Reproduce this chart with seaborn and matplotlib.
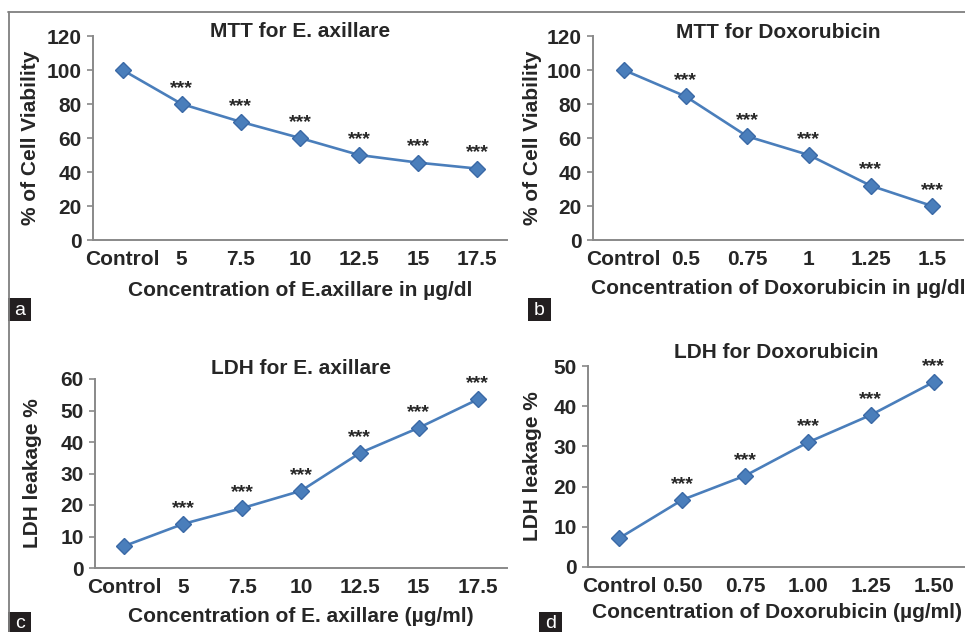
import matplotlib
matplotlib.use('agg')
import matplotlib.pyplot as plt
from matplotlib.lines import Line2D
from matplotlib.patches import Rectangle
import numpy as np
import pandas as pd
import seaborn as sns

# data
mtt_ext_conc = ["Control", "5", "7.5", "10", "12.5", "15", "17.5"]
mtt_ext_val = [100, 80, 69.5, 60, 50, 45.5, 42]

mtt_dox_conc = ["Control", "0.5", "0.75", "1", "1.25", "1.5"]
mtt_dox_val = [100, 84.5, 61, 50, 32, 20]

ldh_ext_conc = ["Control", "5", "7.5", "10", "12.5", "15", "17.5"]
ldh_ext_val = [7, 14, 19, 24.5, 36.5, 44.5, 53.5]

ldh_dox_conc = ["Control", "0.50", "0.75", "1.00", "1.25", "1.50"]
ldh_dox_val = [7.2, 16.7, 22.7, 31, 37.8, 46]

sns.set_style("white")
plt.rcParams['font.family'] = ['Liberation Sans', 'DejaVu Sans']

LINE = '#4a7ebb'
EDGE = '#3a69a6'
SPINE = '#898989'
FS = 15

fig = plt.figure(figsize=(9.65, 6.32), dpi=100)
W, H = 965.0, 632.0


def px_axes(left, right, top, bottom):
    return fig.add_axes([left / W, 1 - bottom / H, (right - left) / W,
                         (bottom - top) / H])


def draw_panel(ax, conc, val, ymax, ystep, title, title_dy, ylabel, ylab_x,
               xlabel, xlab_y):
    df = pd.DataFrame({"conc": conc, "val": val})
    sns.pointplot(data=df, x="conc", y="val", ax=ax, color=LINE, markers='D',
                  markersize=8, linewidth=1.9, markeredgecolor=EDGE,
                  markeredgewidth=1)
    ax.set_xlim(-0.5, len(conc) - 0.5)
    ax.set_ylim(0, ymax)
    ax.set_yticks(np.arange(0, ymax + 1, ystep))
    for s in ['top', 'right']:
        ax.spines[s].set_visible(False)
    for s in ['left', 'bottom']:
        ax.spines[s].set_color(SPINE)
        ax.spines[s].set_linewidth(1.4)
    ax.tick_params(axis='y', length=4, width=1.2, color=SPINE, pad=4,
                   labelsize=FS, direction='out', left=True)
    ax.tick_params(axis='x', length=0, pad=7, labelsize=FS)
    for lab in ax.get_xticklabels() + ax.get_yticklabels():
        lab.set_fontweight('bold')
    # significance marks above treated points
    for i, (c, v) in enumerate(zip(conc, val)):
        if i == 0:
            continue
        ax.annotate("***", (i, v), xytext=(0, 8), textcoords='offset points',
                    ha='center', va='baseline', fontsize=14,
                    fontweight='bold')
    ax.text(0.5, 1 + title_dy, title, transform=ax.transAxes, ha='center',
            va='center', fontsize=FS, fontweight='bold')
    ax.set_xlabel(xlabel, fontsize=FS, fontweight='bold')
    ax.xaxis.label.set_va('center')
    ax.xaxis.set_label_coords(0.5, xlab_y)
    ax.set_ylabel(ylabel, fontsize=FS, fontweight='bold')
    ax.yaxis.label.set_va('center')
    ax.yaxis.set_label_coords(ylab_x, 0.5)


ax_a = px_axes(93, 507, 36, 240)
draw_panel(ax_a, mtt_ext_conc, mtt_ext_val, 120, 20, "MTT for E. axillare",
           0.02, "% of Cell Viability", (30 - 93) / 414.0,
           "Concentration of E.axillare in µg/dl", -(291 - 240) / 204.0)

ax_b = px_axes(593, 963, 36, 240)
draw_panel(ax_b, mtt_dox_conc, mtt_dox_val, 120, 20, "MTT for Doxorubicin",
           0.015, "% of Cell Viability", (533 - 593) / 370.0,
           "Concentration of Doxorubicin in µg/dl", -(288 - 240) / 204.0)

ax_c = px_axes(95, 507, 379, 568)
draw_panel(ax_c, ldh_ext_conc, ldh_ext_val, 60, 10, "LDH for E. axillare",
           10 / 189.0, "LDH leakage %", (32 - 95) / 412.0,
           "Concentration of E. axillare (µg/ml)", -(616 - 568) / 189.0)

ax_d = px_axes(588, 965, 366, 567)
draw_panel(ax_d, ldh_dox_conc, ldh_dox_val, 50, 10, "LDH for Doxorubicin",
           13 / 201.0, "LDH leakage %", (532 - 588) / 377.0,
           "Concentration of Doxorubicin (µg/ml)", -(613 - 567) / 201.0)

# outer frame lines (top and left)
fig.add_artist(Line2D([8 / W, 1], [1 - 11.5 / H, 1 - 11.5 / H],
                      transform=fig.transFigure, color='#7f7f7f', lw=1.3))
fig.add_artist(Line2D([8.5 / W, 8.5 / W], [0, 1 - 11.5 / H],
                      transform=fig.transFigure, color='#7f7f7f', lw=1.3))

# panel letters
for letter, x0, y0, h in [("a", 8, 298, 23), ("b", 528, 298, 23),
                          ("c", 8, 612, 20), ("d", 539, 612, 20)]:
    fig.add_artist(Rectangle((x0 / W, 1 - (y0 + h) / H), 23 / W, h / H,
                             transform=fig.transFigure, facecolor='#231f20',
                             edgecolor='none'))
    fig.text((x0 + 11.5) / W, 1 - (y0 + h / 2 + 1) / H, letter,
             color='white', fontsize=14, ha='center', va='center')

fig.savefig("out.png", dpi=100)
